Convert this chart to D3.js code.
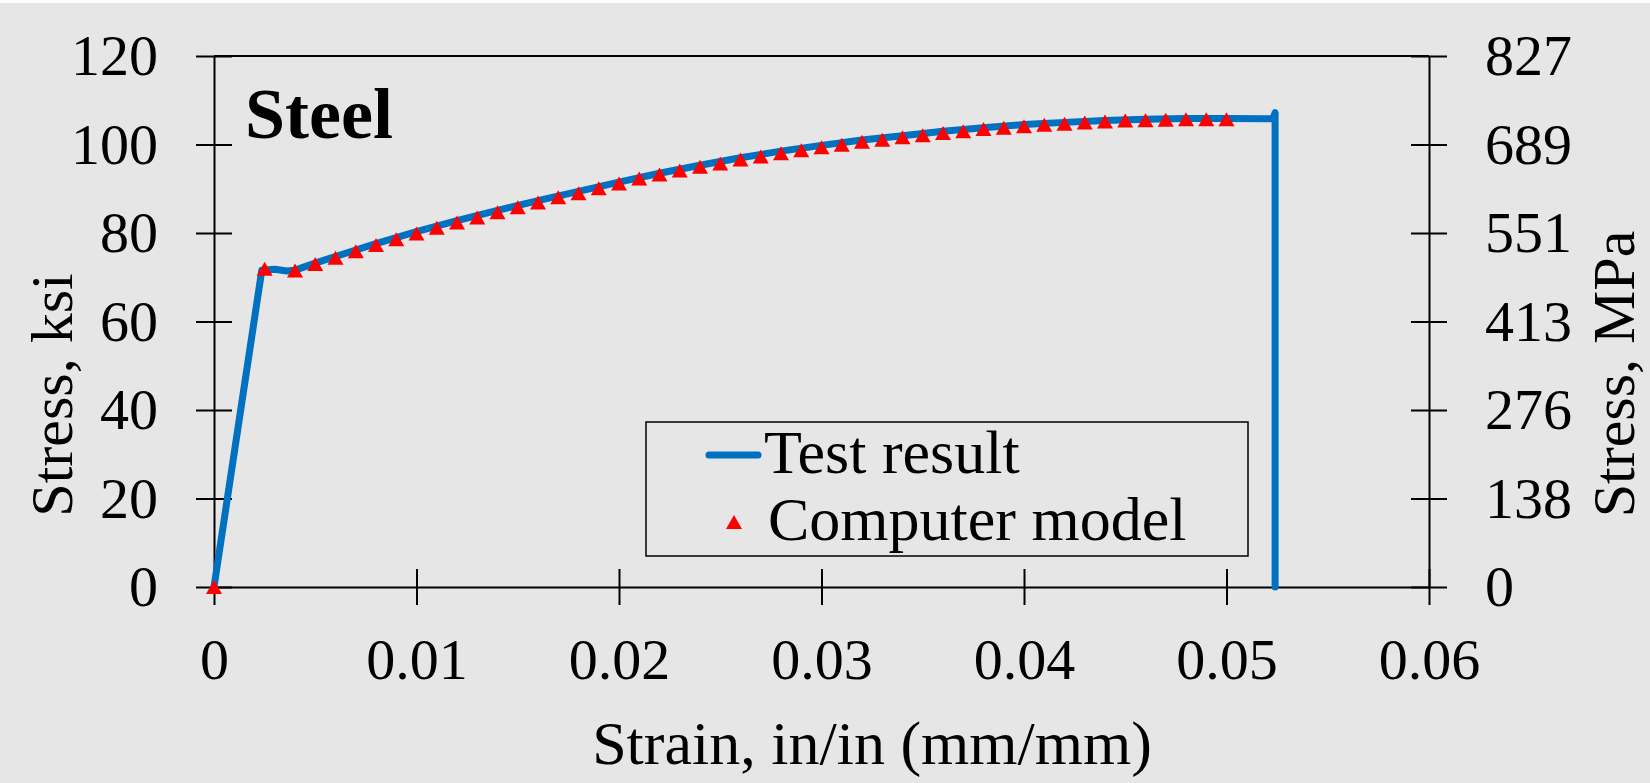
<!DOCTYPE html>
<html>
<head>
<meta charset="utf-8">
<script src="https://cdn.jsdelivr.net/npm/d3@7"></script>
<style>
  html, body { margin: 0; padding: 0; background: #e6e6e6; }
  svg { display: block; }
</style>
</head>
<body>
<svg id="chart" width="1650" height="783"></svg>
<script>
// Stress-strain curve for steel: test vs computer model.

const strainTicks = [0, 0.01, 0.02, 0.03, 0.04, 0.05, 0.06];
const strainTickLabels = ["0", "0.01", "0.02", "0.03", "0.04", "0.05", "0.06"];
const ksiTicks = [0, 20, 40, 60, 80, 100, 120];
const mpaTickLabels = ["0", "138", "276", "413", "551", "689", "827"];

const testStrain = [0, 0.00236, 0.0030, 0.0036, 0.0040, 0.005, 0.006, 0.008, 0.010, 0.012,
  0.014, 0.016, 0.018, 0.020, 0.022, 0.024, 0.026, 0.028, 0.030, 0.032, 0.034, 0.036,
  0.038, 0.040, 0.042, 0.044, 0.046, 0.048, 0.050, 0.052, 0.0523, 0.0524, 0.0524];
const testStress = [0, 71.6, 71.8, 71.4, 71.6, 73.2, 74.7, 77.6, 80.3, 82.8,
  85.1, 87.3, 89.4, 91.5, 93.5, 95.3, 97.0, 98.5, 99.8, 101.0, 102.0, 103.0,
  103.8, 104.5, 105.0, 105.4, 105.7, 105.9, 105.9, 105.8, 105.8, 107.2, 0];

const modelStrain = [0, 0.0025, 0.004, 0.005, 0.006, 0.007, 0.008, 0.009, 0.010, 0.011,
  0.012, 0.013, 0.014, 0.015, 0.016, 0.017, 0.018, 0.019, 0.020, 0.021, 0.022, 0.023,
  0.024, 0.025, 0.026, 0.027, 0.028, 0.029, 0.030, 0.031, 0.032, 0.033, 0.034, 0.035,
  0.036, 0.037, 0.038, 0.039, 0.040, 0.041, 0.042, 0.043, 0.044, 0.045, 0.046, 0.047,
  0.048, 0.049, 0.050];
const modelStress = [0, 71.9, 71.5, 73.0, 74.4, 75.9, 77.3, 78.6, 79.9, 81.2,
  82.4, 83.5, 84.7, 85.8, 86.9, 88.1, 89.0, 90.1, 91.2, 92.3, 93.2, 94.1,
  95.0, 95.7, 96.6, 97.3, 98.0, 98.7, 99.4, 99.95, 100.6, 101.1, 101.65, 102.1,
  102.6, 103.0, 103.5, 103.8, 104.1, 104.45, 104.7, 105.0, 105.2, 105.4, 105.5, 105.6,
  105.7, 105.7, 105.7];

const svg = d3.select("#chart");
const font = "'Liberation Serif', 'Times New Roman', serif";
const blue = "#0070c0";
const red = "#ff0000";

svg.append("rect").attr("width", 1650).attr("height", 3).attr("fill", "#ffffff");

const plotLeft = 214, plotRight = 1429, plotTop = 56, plotBottom = 587;

const x = d3.scaleLinear().domain([0, 0.06]).range([plotLeft, plotRight]);
const y = d3.scaleLinear().domain([0, 120]).range([plotBottom, plotTop]);

function styleAxis(axis, fontSize) {
  axis.selectAll(".domain").attr("stroke", "#000").attr("stroke-width", 2);
  axis.selectAll(".tick line").attr("stroke", "#000").attr("stroke-width", 2);
  axis.selectAll("text")
    .attr("fill", "#000")
    .attr("font-family", font)
    .attr("font-size", fontSize);
}

// top border
svg.append("line")
  .attr("x1", plotLeft).attr("x2", plotRight)
  .attr("y1", plotTop).attr("y2", plotTop)
  .attr("stroke", "#000").attr("stroke-width", 2);

// left axis (ksi), cross ticks
svg.append("g")
  .attr("transform", `translate(${plotLeft},0)`)
  .call(d3.axisLeft(y).tickValues(ksiTicks).tickFormat(d3.format("d")).tickSize(18).tickSizeOuter(0))
  .call(axis => {
    axis.attr("font-family", null).attr("font-size", null);
    axis.selectAll(".tick line").attr("x1", 18);
    axis.selectAll(".tick text").attr("x", -56);
    styleAxis(axis, 58);
  });

// right axis (MPa), cross ticks
svg.append("g")
  .attr("transform", `translate(${plotRight},0)`)
  .call(d3.axisRight(y).tickValues(ksiTicks).tickFormat((d, i) => mpaTickLabels[i]).tickSize(18).tickSizeOuter(0))
  .call(axis => {
    axis.attr("font-family", null).attr("font-size", null);
    axis.selectAll(".tick line").attr("x1", -18);
    axis.selectAll(".tick text").attr("x", 56);
    styleAxis(axis, 58);
  });

// bottom axis (strain), cross ticks
svg.append("g")
  .attr("transform", `translate(0,${plotBottom})`)
  .call(d3.axisBottom(x).tickValues(strainTicks).tickFormat((d, i) => strainTickLabels[i]).tickSize(18).tickSizeOuter(0))
  .call(axis => {
    axis.attr("font-family", null).attr("font-size", null);
    axis.selectAll(".tick line").attr("y1", -18);
    axis.selectAll(".tick text").attr("y", 51);
    styleAxis(axis, 58);
  });

// axis titles
svg.append("text")
  .attr("x", 872).attr("y", 764)
  .attr("text-anchor", "middle")
  .attr("font-family", font).attr("font-size", 62)
  .text("Strain, in/in (mm/mm)");

svg.append("text")
  .attr("transform", "translate(72,395) rotate(-90)")
  .attr("text-anchor", "middle")
  .attr("font-family", font).attr("font-size", 60)
  .text("Stress, ksi");

svg.append("text")
  .attr("transform", "translate(1634,374) rotate(-90)")
  .attr("text-anchor", "middle")
  .attr("font-family", font).attr("font-size", 60)
  .text("Stress, MPa");

svg.append("text")
  .attr("x", 245).attr("y", 138)
  .attr("font-family", font).attr("font-size", 72).attr("font-weight", "bold")
  .text("Steel");

// test result line
const testPts = testStrain.map((s, i) => [s, testStress[i]]);
svg.append("path")
  .datum(testPts)
  .attr("d", d3.line().x(d => x(d[0])).y(d => y(d[1])))
  .attr("fill", "none")
  .attr("stroke", blue)
  .attr("stroke-width", 7)
  .attr("stroke-linejoin", "round")
  .attr("stroke-linecap", "round");

// triangle marker centred on its bounding box
const triangle = {
  draw(ctx, size) {
    const w = 8, h = 7;
    ctx.moveTo(0, -h);
    ctx.lineTo(w, h);
    ctx.lineTo(-w, h);
    ctx.closePath();
  }
};
const tri = d3.symbol().type(triangle);

const modelPts = modelStrain.map((s, i) => [s, modelStress[i]]);
svg.append("g")
  .selectAll("path")
  .data(modelPts)
  .join("path")
  .attr("d", tri)
  .attr("transform", d => `translate(${x(d[0])},${y(d[1])})`)
  .attr("fill", red);

// legend
const legend = svg.append("g");
legend.append("rect")
  .attr("x", 646).attr("y", 422)
  .attr("width", 602).attr("height", 134)
  .attr("fill", "none").attr("stroke", "#000").attr("stroke-width", 1.5);

legend.append("line")
  .attr("x1", 709).attr("x2", 758)
  .attr("y1", 455).attr("y2", 455)
  .attr("stroke", blue).attr("stroke-width", 7).attr("stroke-linecap", "round");

legend.append("text")
  .attr("x", 764).attr("y", 473)
  .attr("font-family", font).attr("font-size", 62)
  .text("Test result");

legend.append("path")
  .attr("d", tri)
  .attr("transform", "translate(734,522)")
  .attr("fill", red);

legend.append("text")
  .attr("x", 768).attr("y", 540)
  .attr("font-family", font).attr("font-size", 62)
  .text("Computer model");
</script>
</body>
</html>
